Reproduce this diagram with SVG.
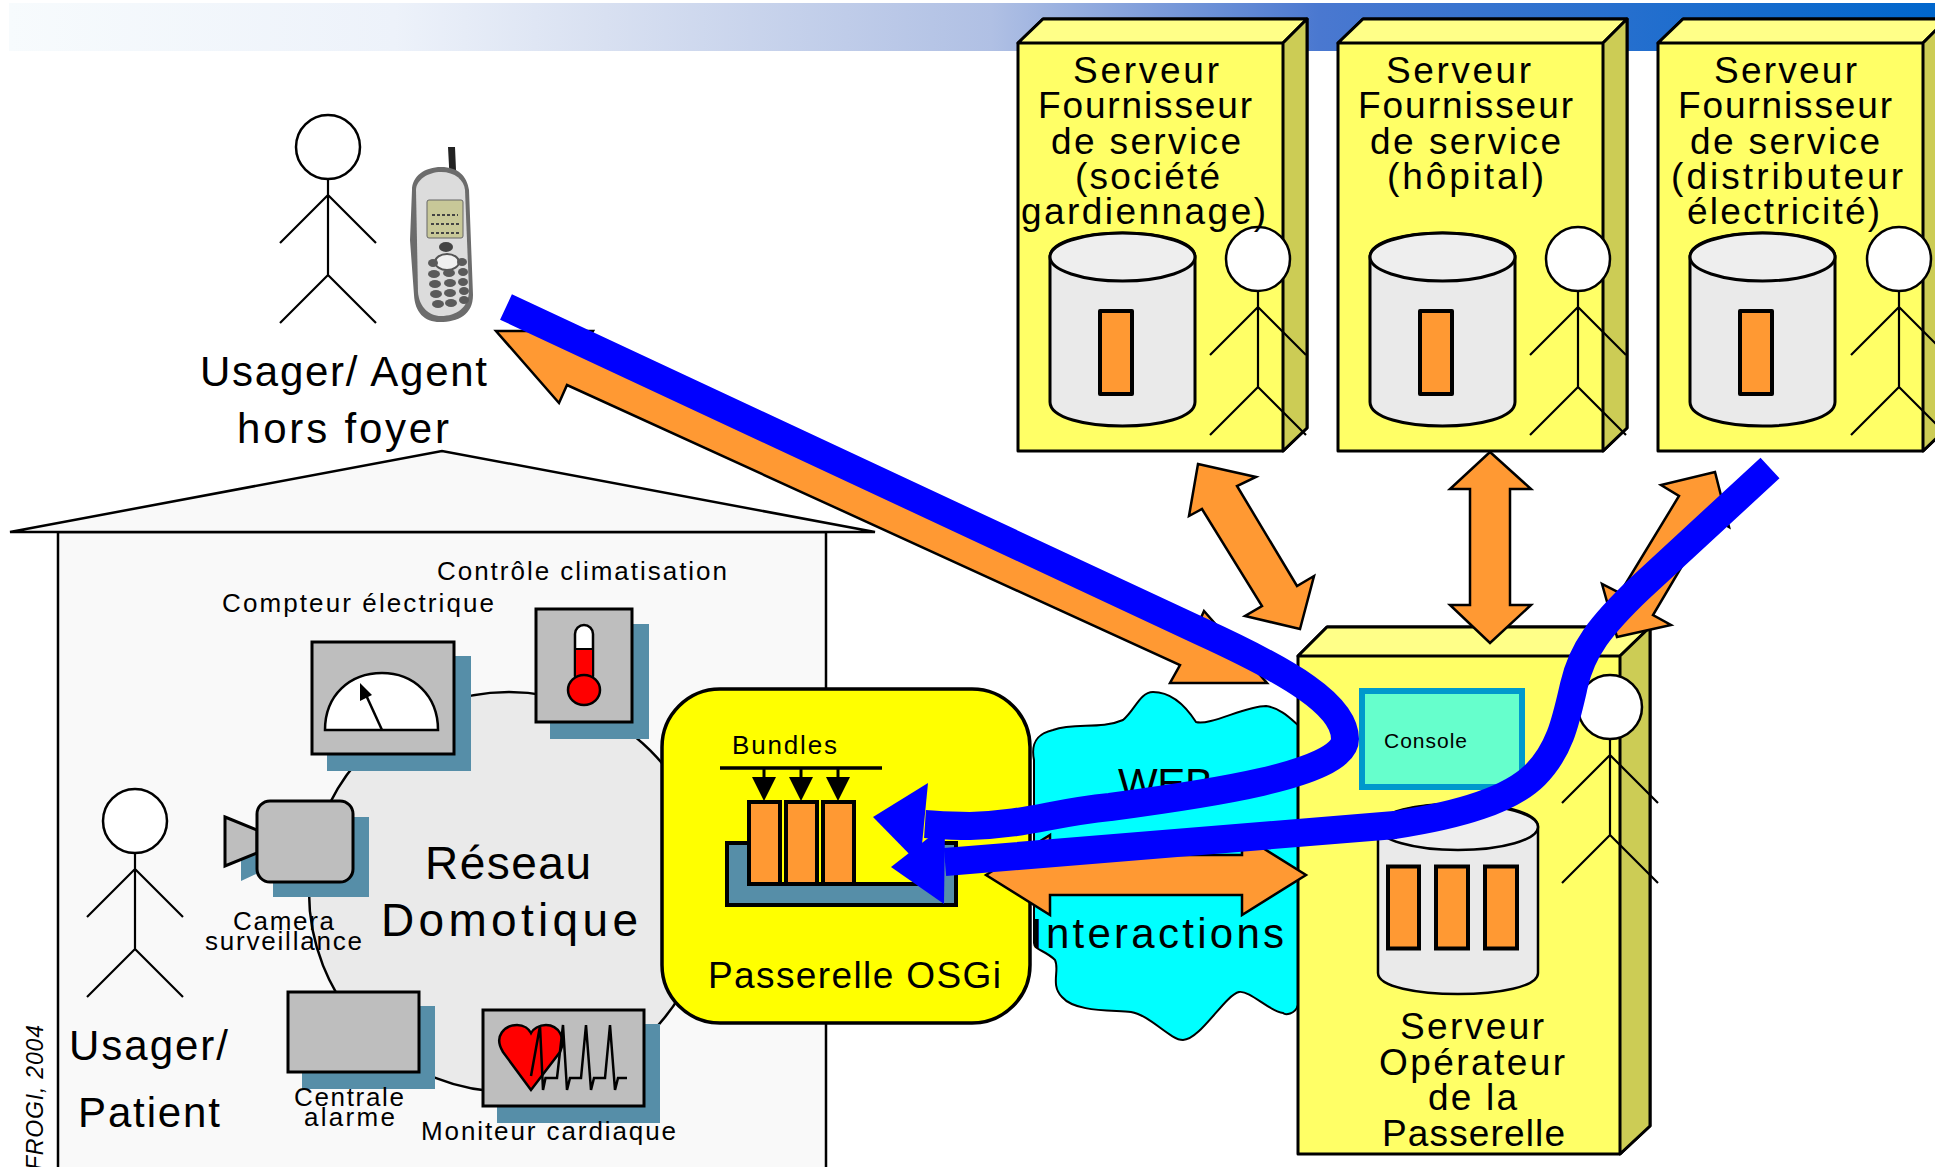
<svg xmlns="http://www.w3.org/2000/svg" xmlns:xlink="http://www.w3.org/1999/xlink" width="1935" height="1167" viewBox="0 0 1935 1167">
<style>
text{font-family:"Liberation Sans",Arial,sans-serif;fill:#000}
.l{font-size:42px}.xl{font-size:46px}.m{font-size:37px}.s{font-size:26px}
.o{fill:#f93;stroke:#000;stroke-width:2.5}
.ob{fill:#f93;stroke:#000;stroke-width:4}
.sh{fill:#568ea8}
.dev{fill:#bebebe;stroke:#000;stroke-width:3}
.blue{fill:none;stroke:#00f;stroke-width:28}
</style>
<defs>
<linearGradient id="band" x1="0" y1="0" x2="1" y2="0">
<stop offset="0" stop-color="#f7fbfd"/><stop offset=".2" stop-color="#edf2fa"/><stop offset=".31" stop-color="#d8e0f1"/><stop offset=".51" stop-color="#b0c0e4"/><stop offset=".68" stop-color="#4a78d0"/><stop offset="1" stop-color="#06c"/>
</linearGradient>
<g id="actor" fill="none" stroke="#000" stroke-width="2.2">
<ellipse cx="0" cy="0" rx="32" ry="32" fill="#fff" stroke-width="2.5"/>
<path d="M0,32V128M-48,96L0,48L48,96M-48,176L0,128L48,176"/>
</g>
<g id="fbox" stroke="#000" stroke-width="3" stroke-linejoin="round">
<path d="M0,24L25,0H289V409L265,432H0Z" fill="#ff6"/>
<path d="M0,24L25,0H289L265,24Z" fill="#ff8"/>
<path d="M265,24L289,0V409L265,432Z" fill="#cc5"/>
<path d="M32,238C32,206 177,206 177,238V383C177,415 32,415 32,383Z" fill="#eaeaea"/>
<ellipse cx="104.500" cy="238" rx="72.500" ry="24" fill="#eee"/>
<rect x="82" y="292" width="32" height="83" class="ob" stroke-width="4"/>
</g>
</defs>
<g id="banner"><rect x="9" y="3" width="1926" height="48" fill="url(#band)"/></g>

<g id="house">
<path d="M58,532H826V1170H58Z" fill="#f9f9f9" stroke="#000" stroke-width="2.500"/>
<path d="M10,532L442,451L875,532Z" fill="#f9f9f9" stroke="#000" stroke-width="2.500"/>
<text x="43" y="1170" font-size="23" font-style="italic" fill="#222" transform="rotate(-90 43 1170)" textLength="145">FROGI, 2004</text>
</g>

<g id="reseau">
<circle cx="509" cy="892" r="200" fill="#eaeaea" stroke="#000" stroke-width="2.500"/>
<text class="xl" x="425" y="879" textLength="166">Réseau</text>
<text class="xl" x="381" y="936" textLength="257">Domotique</text>
</g>

<g id="compteur">
<rect class="sh" x="327" y="656" width="144" height="115"/>
<rect class="dev" x="312" y="642" width="142" height="112"/>
<path d="M325,730C325,695 350,673 382,673C413,673 438,695 438,730Z" fill="#fff" stroke="#000" stroke-width="2.500"/>
<path d="M382,730L366,695" stroke="#000" stroke-width="2.500"/>
<path d="M360,683L372,695L360,701Z" fill="#000"/>
<text class="s" x="222" y="612" textLength="272">Compteur électrique</text>
</g>

<g id="climatisation">
<rect class="sh" x="550" y="624" width="99" height="115"/>
<rect class="dev" x="536" y="609" width="96" height="113"/>
<rect x="575" y="625" width="18" height="60" rx="9" fill="#fff" stroke="#000" stroke-width="2.500"/>
<path d="M575,649H593V690H575Z" fill="#f00" stroke="#000" stroke-width="2"/>
<ellipse cx="584" cy="690" rx="16" ry="15" fill="#f00" stroke="#000" stroke-width="2.500"/>
<text class="s" x="437" y="580" textLength="290">Contrôle climatisation</text>
</g>

<g id="camera">
<path class="sh" d="M241,832L273,845V817H369V897H273V866L241,881Z"/>
<path class="dev" d="M225,817L257,830V853L225,866Z" stroke-width="2.500"/>
<rect class="dev" x="257" y="801" width="96" height="81" rx="13"/>
<text class="s" x="233" y="930" textLength="101">Camera</text>
<text class="s" x="205" y="950" textLength="157">surveillance</text>
</g>

<g id="centrale">
<rect class="sh" x="302" y="1006" width="133" height="83"/>
<rect class="dev" x="288" y="992" width="131" height="80"/>
<text class="s" x="294" y="1106" textLength="110">Centrale</text>
<text class="s" x="304" y="1126" textLength="91">alarme</text>
</g>

<g id="moniteur">
<rect class="sh" x="497" y="1024" width="163" height="99"/>
<rect class="dev" x="483" y="1010" width="161" height="96"/>
<path d="M531,1090L503,1052C493,1036 505,1025 517,1025C524,1025 529,1029 531,1033C533,1029 539,1025 546,1025C558,1025 567,1038 560,1052Z" fill="#f00" stroke="#000" stroke-width="2.500"/>
<path d="M531,1076L540,1026L543,1090L545.500,1078H557L563,1025L567,1090L570,1078H581L586,1025L591,1090L594,1078H605L610,1025L615,1090L618,1078H627" fill="none" stroke="#000" stroke-width="2.500"/>
<text class="s" x="421" y="1140" textLength="255">Moniteur cardiaque</text>
</g>

<g id="usager-patient">
<use href="#actor" xlink:href="#actor" x="135" y="821"/>
<text class="l" x="69" y="1060" textLength="159">Usager/</text>
<text class="l" x="78" y="1127" textLength="142">Patient</text>
</g>

<g id="usager-agent">
<use href="#actor" xlink:href="#actor" x="328" y="147"/>
<text class="l" x="200" y="386" textLength="287">Usager/ Agent</text>
<text class="l" x="237" y="443" textLength="212">hors foyer</text>
</g>

<g id="telephone">
<path d="M448,147H455L456,170L462,185L450,185Z" fill="#222"/>
<path d="M412,190C412,176 425,167 441,167C458,167 467,176 469,190L473,295C473,315 458,322 440,322C424,322 415,312 414,295L410,240Z" fill="#6c6c6c"/>
<path d="M416,190C416,180 428,172 441,172C455,172 464,180 465,190L469,290C469,308 456,316 441,316C428,316 419,306 418,292Z" fill="#dcdcdc"/>
<rect x="427" y="200" width="36" height="38" rx="2" fill="#c8c898" stroke="#666" stroke-width="1"/>
<path d="M432,215H458M431,224H459M431,233H459" stroke="#444" stroke-width="2" stroke-dasharray="3 2"/>
<ellipse cx="447" cy="262" rx="12" ry="8" fill="#f0f0f0" stroke="#555" stroke-width="2"/>
<ellipse cx="446" cy="247" rx="7" ry="5" fill="#444"/>
<g fill="#5a5a5a">
<ellipse cx="433" cy="263" rx="5" ry="4"/><ellipse cx="462" cy="262" rx="5" ry="4"/>
<ellipse cx="434" cy="274" rx="6" ry="4"/><ellipse cx="449" cy="273" rx="6" ry="4"/><ellipse cx="463" cy="272" rx="5" ry="4"/>
<ellipse cx="435" cy="284" rx="6" ry="4"/><ellipse cx="450" cy="283" rx="6" ry="4"/><ellipse cx="463" cy="282" rx="5" ry="4"/>
<ellipse cx="436" cy="294" rx="6" ry="4"/><ellipse cx="450" cy="293" rx="6" ry="4"/><ellipse cx="464" cy="291" rx="5" ry="4"/>
<ellipse cx="438" cy="304" rx="6" ry="4"/><ellipse cx="451" cy="303" rx="6" ry="4"/><ellipse cx="464" cy="300" rx="5" ry="4"/>
</g>
</g>

<g id="cloud">
<path d="M1034,760C1030,740 1040,733 1053,730C1075,722 1100,730 1123,720C1135,710 1140,692 1153,692C1170,692 1185,705 1196,722C1210,726 1245,706 1266,706C1280,708 1290,718 1298,725V1005C1295,1015 1285,1015 1283,1013C1270,1012 1250,990 1239,992C1225,995 1200,1040 1183,1040C1170,1040 1150,1015 1131,1012C1110,1010 1075,1012 1062,997C1050,985 1060,970 1055,960C1045,950 1034,950 1034,943Z" fill="#0ff" stroke="#000" stroke-width="2"/>
<text class="l" x="1118" y="798" textLength="95">WEB</text>
</g>

<g id="serveur-operateur">
<path d="M1298,656L1327,627H1650V1126L1620,1154H1298Z" fill="#ff6" stroke="#000" stroke-width="3" stroke-linejoin="round"/>
<path d="M1298,656L1327,627H1650L1620,656Z" fill="#ff8" stroke="#000" stroke-width="3" stroke-linejoin="round"/>
<path d="M1620,656L1650,627V1126L1620,1154Z" fill="#cc5" stroke="#000" stroke-width="3" stroke-linejoin="round"/>
<rect x="1362" y="691" width="160" height="96" fill="#6fc" stroke="#09c" stroke-width="6"/>
<text x="1384" y="748" font-size="21" textLength="83">Console</text>
<path d="M1378,827C1378,796 1538,796 1538,827V973C1538,1001 1378,1001 1378,973Z" fill="#eaeaea" stroke="#000" stroke-width="2.500"/>
<ellipse cx="1458" cy="827" rx="80" ry="23" fill="#eee" stroke="#000" stroke-width="2.500"/>
<rect class="ob" x="1388" y="866.500" width="31" height="82"/>
<rect class="ob" x="1436" y="866.500" width="32" height="82"/>
<rect class="ob" x="1485" y="866.500" width="32" height="82"/>
<use href="#actor" xlink:href="#actor" x="1610" y="707"/>
<text class="m" x="1400" y="1039" textLength="144">Serveur</text>
<text class="m" x="1379" y="1075" textLength="186">Opérateur</text>
<text class="m" x="1428" y="1110" textLength="89">de la</text>
<text class="m" x="1382" y="1146" textLength="183">Passerelle</text>
</g>

<g id="passerelle">
<rect x="662" y="689" width="368" height="334" rx="58" fill="#ff0" stroke="#000" stroke-width="3.500"/>
<rect x="727" y="843" width="229" height="62" fill="#568ea8" stroke="#000" stroke-width="4"/>
<rect x="749" y="780" width="190" height="104" fill="#ff0"/>
<path d="M749,843V884H939V843" fill="none" stroke="#000" stroke-width="4"/>
<rect class="ob" x="749" y="802" width="31" height="82"/>
<rect class="ob" x="786" y="802" width="31" height="82"/>
<rect class="ob" x="823" y="802" width="31" height="82"/>
<path d="M720,768H882" stroke="#000" stroke-width="3.500"/>
<path d="M764,768V778M801,768V778M838,768V778" stroke="#000" stroke-width="3"/>
<path d="M752,777H776L764,801ZM789,777H813L801,801ZM826,777H850L838,801Z" fill="#000"/>
<text class="s" x="732" y="754" textLength="105">Bundles</text>
<text class="m" x="708" y="988" textLength="293">Passerelle OSGi</text>
</g>

<g id="serveur-societe">
<use href="#fbox" xlink:href="#fbox" x="1018" y="19"/>
<use href="#actor" xlink:href="#actor" x="1258" y="259"/>
<text class="m" x="1073" y="83" textLength="146">Serveur</text>
<text class="m" x="1038" y="118" textLength="214">Fournisseur</text>
<text class="m" x="1051" y="154" textLength="190">de service</text>
<text class="m" x="1075" y="189" textLength="145">(société</text>
<text class="m" x="1021" y="224" textLength="245">gardiennage)</text>
</g>
<g id="serveur-hopital">
<use href="#fbox" xlink:href="#fbox" x="1338" y="19"/>
<use href="#actor" xlink:href="#actor" x="1578" y="259"/>
<text class="m" x="1386" y="83" textLength="145">Serveur</text>
<text class="m" x="1358" y="118" textLength="215">Fournisseur</text>
<text class="m" x="1370" y="154" textLength="191">de service</text>
<text class="m" x="1387" y="189" textLength="157">(hôpital)</text>
</g>
<g id="serveur-electricite">
<use href="#fbox" xlink:href="#fbox" x="1658" y="19"/>
<use href="#actor" xlink:href="#actor" x="1899" y="259"/>
<text class="m" x="1714" y="83" textLength="143">Serveur</text>
<text class="m" x="1678" y="118" textLength="214">Fournisseur</text>
<text class="m" x="1690" y="154" textLength="190">de service</text>
<text class="m" x="1671" y="189" textLength="232">(distributeur</text>
<text class="m" x="1687" y="224" textLength="193">électricité)</text>
</g>

<g id="connectors">
<path class="o" d="M496,331H593L583,349L1196,629L1204,611L1267,683H1170L1180,665L567,385L559,403Z"/>
<path class="o" d="M986,875L1050,835V855H1242V835L1306,875L1242,915V895H1050V915Z"/>
<path class="o" d="M1198,464L1256,477L1237,486L1297,586L1314,576L1300,629L1245,616L1262,606L1202,509L1189,516Z"/>
<path class="o" d="M1490,452L1531,489H1510V605H1531L1490,643L1450,605H1470V489H1450Z"/>
<path class="o" d="M1715,472L1729,527L1711,517L1653,615L1671,625L1617,637L1602,584L1620,593L1679,496L1661,485Z"/>
<text class="l" x="1031" y="948" textLength="253">Interactions</text>
<path class="blue" d="M506,307L1200,631C1290,672 1345,705 1345,739C1345,775 1200,795 1110,807C1050,813 1030,824 970,826C950,826 940,825 925,824"/>
<path d="M873,817L928,783L920,865Z" fill="#00f"/>
<path class="blue" d="M1770,468L1640,588C1600,626 1582,650 1574,685C1566,720 1560,750 1535,775C1510,800 1460,815 1395,825L945,862"/>
<path d="M891,867L945,825L944,904Z" fill="#00f"/>
</g>
</svg>
